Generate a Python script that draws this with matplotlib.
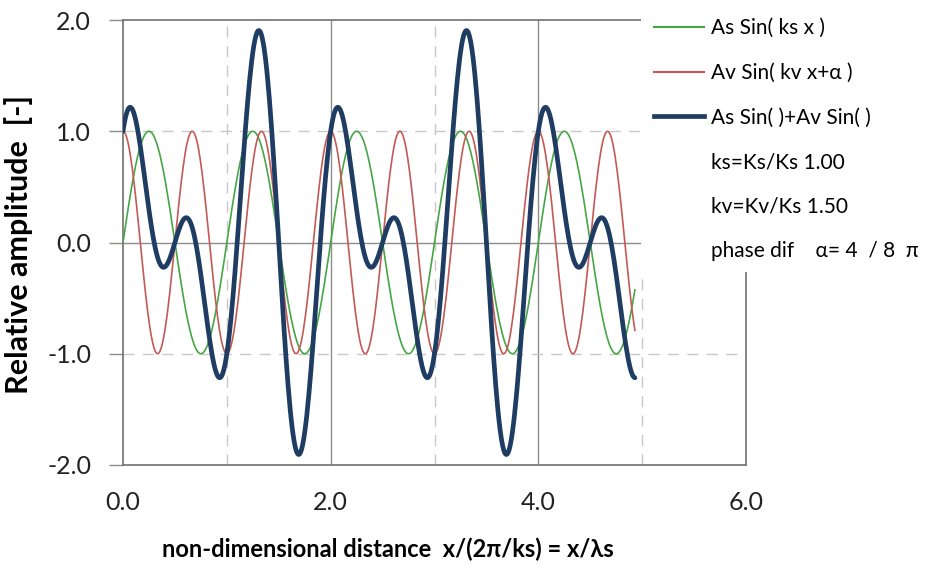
import numpy as np
import matplotlib
matplotlib.use("Agg")
import matplotlib.pyplot as plt
from matplotlib.lines import Line2D
from matplotlib.patches import Rectangle

# parameters printed on the chart
As, Av = 1.0, 1.0
ks = 1.00
kv = 1.50
alpha_num, alpha_den = 4, 8
x_end = 4.93          # where the curves stop
x_step = 0.01

labels = ["As Sin( ks x )", "Av Sin( kv x+\u03b1 )", "As Sin( )+Av Sin( )",
          "ks=Ks/Ks 1.00", "kv=Kv/Ks 1.50", "phase dif    \u03b1= 4  / 8  \u03c0"]
xticks = [0.0, 2.0, 4.0, 6.0]
yticks = [-2.0, -1.0, 0.0, 1.0, 2.0]

plt.rcParams['font.family'] = ['Lato', 'DejaVu Sans']

x = np.arange(0, x_end + 1e-9, x_step)
alpha = alpha_num / alpha_den * np.pi
ys = As * np.sin(2 * np.pi * ks * x)
yv = Av * np.sin(2 * np.pi * kv * x + alpha)
ysum = ys + yv

c_green = '#46A646'
c_red = '#C25A55'
c_blue = '#1F3D63'
c_grid = '#8C8C8C'
c_dash = '#C8C8C8'

fig = plt.figure(figsize=(9.28, 5.75), dpi=100)
ax = fig.add_axes([123 / 928, 1 - 465 / 575, (746 - 123) / 928, (465 - 20) / 575])

# grid
for xv in [2.0, 4.0]:
    ax.axvline(xv, color=c_grid, lw=1.0, zorder=1)
for xv in [1.0, 3.0, 5.0]:
    ax.axvline(xv, color=c_dash, lw=1.0, ls=(0, (8, 6)), zorder=1)
ax.axhline(0.0, color=c_grid, lw=1.0, zorder=1)
for yv_ in [-1.0, 1.0]:
    ax.axhline(yv_, color=c_dash, lw=1.0, ls=(0, (8, 6)), zorder=1)

ax.plot(x, ys, color=c_green, lw=1.2, zorder=3)
ax.plot(x, yv, color=c_red, lw=1.2, zorder=3)
ax.plot(x, ysum, color=c_blue, lw=3.4, zorder=4, solid_capstyle='round')

ax.set_xlim(0, 6)
ax.set_ylim(-2, 2)
ax.set_xticks(xticks)
ax.set_xticklabels(['{:.1f}'.format(t) for t in xticks])
ax.set_yticks(yticks)
ax.set_yticklabels(['{:.1f}'.format(t) for t in yticks])
ax.tick_params(axis='x', length=0, pad=19, labelsize=18, colors='#222222')
ax.tick_params(axis='y', length=10, width=1.0, color=c_grid, pad=13, labelsize=18, labelcolor='#222222')
for s in ax.spines.values():
    s.set_color('#707070')
    s.set_linewidth(1.2)

ax.set_xlabel("non-dimensional distance  x/(2\u03c0/ks) = x/\u03bbs", fontsize=17,
              fontweight='bold')
ax.set_ylabel("Relative amplitude  [-]", fontsize=22, fontweight='bold')
ax.xaxis.set_label_coords(0.425, -0.163)
ax.yaxis.set_label_coords(-0.145, 0.495)

# white box behind the legend, covering the plot corner
fig.add_artist(Rectangle((641 / 928, 1 - 272 / 575), 1.0, 1.0, transform=fig.transFigure,
                         facecolor='white', edgecolor='none', zorder=2))

handles = [Line2D([], [], color=c_green, lw=1.5),
           Line2D([], [], color=c_red, lw=1.5),
           Line2D([], [], color=c_blue, lw=3.4),
           Line2D([], [], color='none'),
           Line2D([], [], color='none'),
           Line2D([], [], color='none')]
leg = fig.legend(handles, labels, loc='upper left', bbox_to_anchor=(646 / 928, 1 - 10 / 575),
                 frameon=False, fontsize=15, handlelength=2.4, handletextpad=0.3,
                 labelspacing=1.18, borderaxespad=0)
leg.set_zorder(5)

fig.savefig('out.png', dpi=100, facecolor='white')
